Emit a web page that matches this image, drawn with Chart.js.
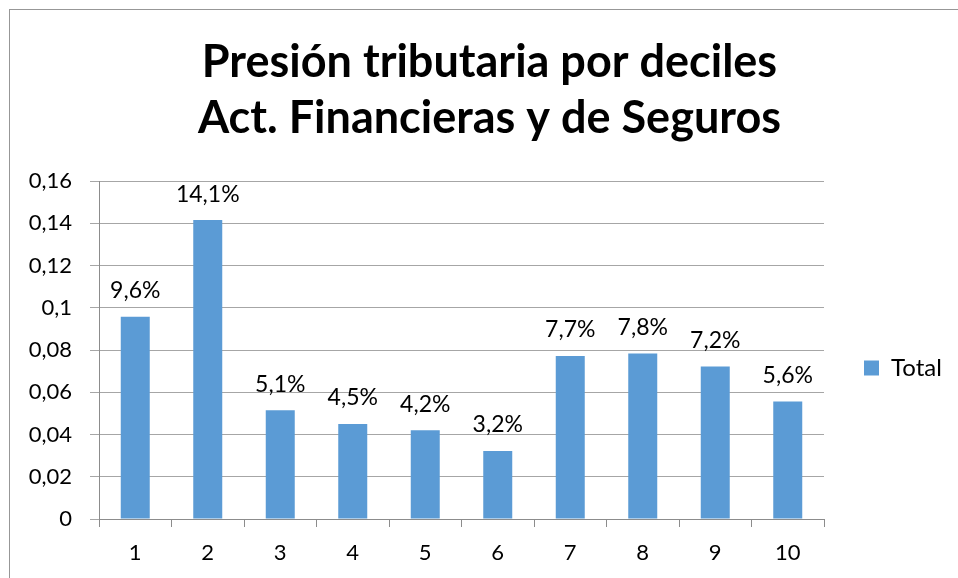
<!DOCTYPE html>
<html><head><meta charset="utf-8">
<script src="https://cdn.jsdelivr.net/npm/chart.js@4"></script>
<style>
html,body{margin:0;padding:0;background:#fff;overflow:hidden}
#wrap{position:absolute;left:0;top:0;width:958px;height:578px}
#frame{position:absolute;left:9px;top:9px;width:980px;height:600px;border-left:1px solid #979797;border-top:1px solid #979797;}
canvas{position:absolute;left:0;top:0}
</style></head><body>
<div id="wrap"><div id="frame"></div><canvas id="c" width="958" height="578"></canvas></div>
<script>
const titleLines = ['Presión tributaria por deciles', 'Act. Financieras y de Seguros'];
const categories = ['1','2','3','4','5','6','7','8','9','10'];
const totalValues = [0.0957, 0.1415, 0.0515, 0.0450, 0.0420, 0.0322, 0.0772, 0.0783, 0.0722, 0.0556];
const totalLabels = ['9,6%','14,1%','5,1%','4,5%','4,2%','3,2%','7,7%','7,8%','7,2%','5,6%'];
const seriesName = 'Total';
const yMin = 0, yMax = 0.16, yStep = 0.02;

const FONT = 'Lato';
const tickFont = {family: FONT, size: 22};

const dataLabels = {
  id: 'dataLabels',
  afterDatasetsDraw(chart) {
    const ctx = chart.ctx;
    const meta = chart.getDatasetMeta(0);
    ctx.save();
    ctx.font = '23px ' + FONT;
    ctx.fillStyle = '#000';
    ctx.textAlign = 'center';
    ctx.textBaseline = 'middle';
    meta.data.forEach((bar, i) => {
      ctx.fillText(totalLabels[i], bar.x, bar.y - 26);
    });
    ctx.restore();
  }
};

const legendFix = {
  id: 'legendFix',
  afterInit(chart) {
    const lg = chart.legend;
    const fit = lg.fit;
    lg.fit = function () { fit.call(this); this.width = 134; };
  },
  afterLayout(chart) {
    const lg = chart.legend;
    lg.top += 18; lg.bottom += 18;
  }
};

new Chart(document.getElementById('c'), {
  type: 'bar',
  data: {
    labels: categories,
    datasets: [{
      label: seriesName,
      data: totalValues,
      backgroundColor: '#5B9BD5',
      borderWidth: 0,
      barPercentage: 0.4,
      categoryPercentage: 1.0
    }]
  },
  options: {
    responsive: false,
    animation: false,
    layout: {padding: {left: 21, right: 0, top: 0, bottom: 13}},
    plugins: {
      title: {
        display: true,
        text: titleLines,
        color: '#000',
        font: {family: FONT, size: 45, weight: 'bold', lineHeight: 1.25},
        padding: {top: 34, bottom: 34.5}
      },
      legend: {
        position: 'right',
        fullSize: false,
        labels: {boxWidth: 15, boxHeight: 15, padding: 40, color: '#000', font: {family: FONT, size: 24}}
      },
      tooltip: {enabled: false}
    },
    scales: {
      x: {
        grid: {display: true, drawOnChartArea: false, tickLength: 8, color: '#8c8c8c', offset: true},
        border: {color: '#8c8c8c', width: 1},
        ticks: {padding: 13, color: '#000', font: tickFont},
        afterFit: s => { s.height = 578 - 13 - 519; }
      },
      y: {
        min: yMin, max: yMax,
        ticks: {
          stepSize: yStep, padding: 18, color: '#000', font: tickFont,
          callback: v => String(+v.toFixed(2)).replace('.', ',')
        },
        grid: {color: '#a6a6a6', tickLength: 9},
        border: {color: '#8c8c8c', width: 1},
        afterFit: s => { s.width = 99 - 21; }
      }
    }
  },
  plugins: [dataLabels, legendFix]
});
</script>
</body></html>
